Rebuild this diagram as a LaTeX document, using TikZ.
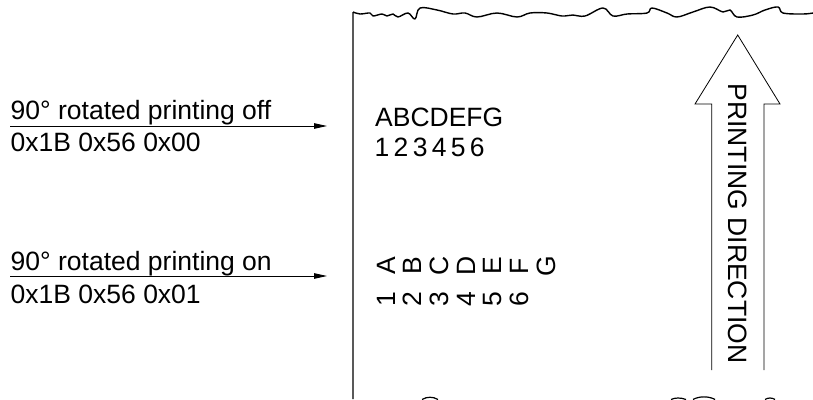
\documentclass[tikz,border=0pt]{standalone}
\usepackage{fontspec}
\setmainfont{Liberation Sans}
\usetikzlibrary{arrows.meta}
\tikzset{
  lbl/.style={inner sep=0pt, anchor=base west, font=\fontsize{26.5}{30}\selectfont},
  rotch/.style={inner sep=0pt, anchor=base, rotate=90, font=\fontsize{26.5}{30}\selectfont},
  cmdarrow/.style={line width=0.9pt, -{Triangle[length=13pt,width=5.5pt]}},
  paper/.style={line width=1.4pt, line join=round},
  bigarrow/.style={line width=0.8pt, line join=miter},
  rollmark/.style={line width=1.2pt}
}
\begin{document}
\begin{tikzpicture}[x=1pt,y=-1pt]
\useasboundingbox (0,0) rectangle (813,399);
% paper
\draw[paper] (353,399) -- (353,12)
  plot[smooth, tension=0.6] coordinates {(353,12) (360,14) (370,13) (373,16) (382,14) (387,16) (393,14) (398,17) (408,13) (415,19) (420,8) (437,10) (453,14) (465,13) (477,17) (497,13) (517,17) (530,13) (547,13) (562,16) (573,15) (585,16) (603,8) (613,16) (627,14) (647,13) (652,8) (667,13) (677,17) (693,12) (710,7) (723,12) (730,10) (737,17) (753,15) (765,10) (778,7) (783,13) (803,14) (813,13)};
% commands
\node[lbl] (off) at (10.5,119) {90° rotated printing off};
\node[lbl] (offc) at (10.5,151) {0x1B 0x56 0x00};
\coordinate (offs) at (10,126);
\coordinate (offt) at (327,126);
\draw[cmdarrow] (offs) -- (offt);
\node[lbl] (on) at (10.5,270) {90° rotated printing on};
\node[lbl] (onc) at (10.5,303) {0x1B 0x56 0x01};
\coordinate (ons) at (10,276);
\coordinate (ont) at (327,276);
\draw[cmdarrow] (ons) -- (ont);
% normal text
\node[lbl] (abc) at (375,126) {ABCDEFG};
\node[lbl] (num) at (374.5,156) {1\kern4.3pt 2\kern4.3pt 3\kern4.3pt 4\kern4.3pt 5\kern4.3pt 6};
% rotated text
\foreach \c [count=\i from 0] in {A,B,C,D,E,F,G}{
  \node[rotch] (r\c) at ({395+26.7*\i},266) {\c};
}
\foreach \c [count=\i from 0] in {1,2,3,4,5,6}{
  \node[rotch] (d\c) at ({395+26.7*\i},299) {\c};
}
% printing direction arrow
\draw[bigarrow] (711.7,370) -- (711.7,104) -- (695,104) -- (737.7,35) -- (780,104) -- (764,104) -- (764,370);
\node[inner sep=0pt, rotate=-90, font=\fontsize{26.5}{30}\selectfont] (pd) at (737.5,223.5) {PRINTING DIRECTION};
% roll marks at bottom edge
\draw[rollmark] (422,399.5) .. controls (427,396.5) and (433,396.5) .. (438,399.5);
\draw[rollmark] (671,399.5) .. controls (675,397.5) and (681,397.5) .. (686,399.5);
\draw[rollmark] (693,399.5) .. controls (699,396) and (709,396) .. (715,399.5);
\draw[rollmark] (765,399.5) .. controls (768,397.5) and (772,397.5) .. (775,399.5);
\end{tikzpicture}
\end{document}
